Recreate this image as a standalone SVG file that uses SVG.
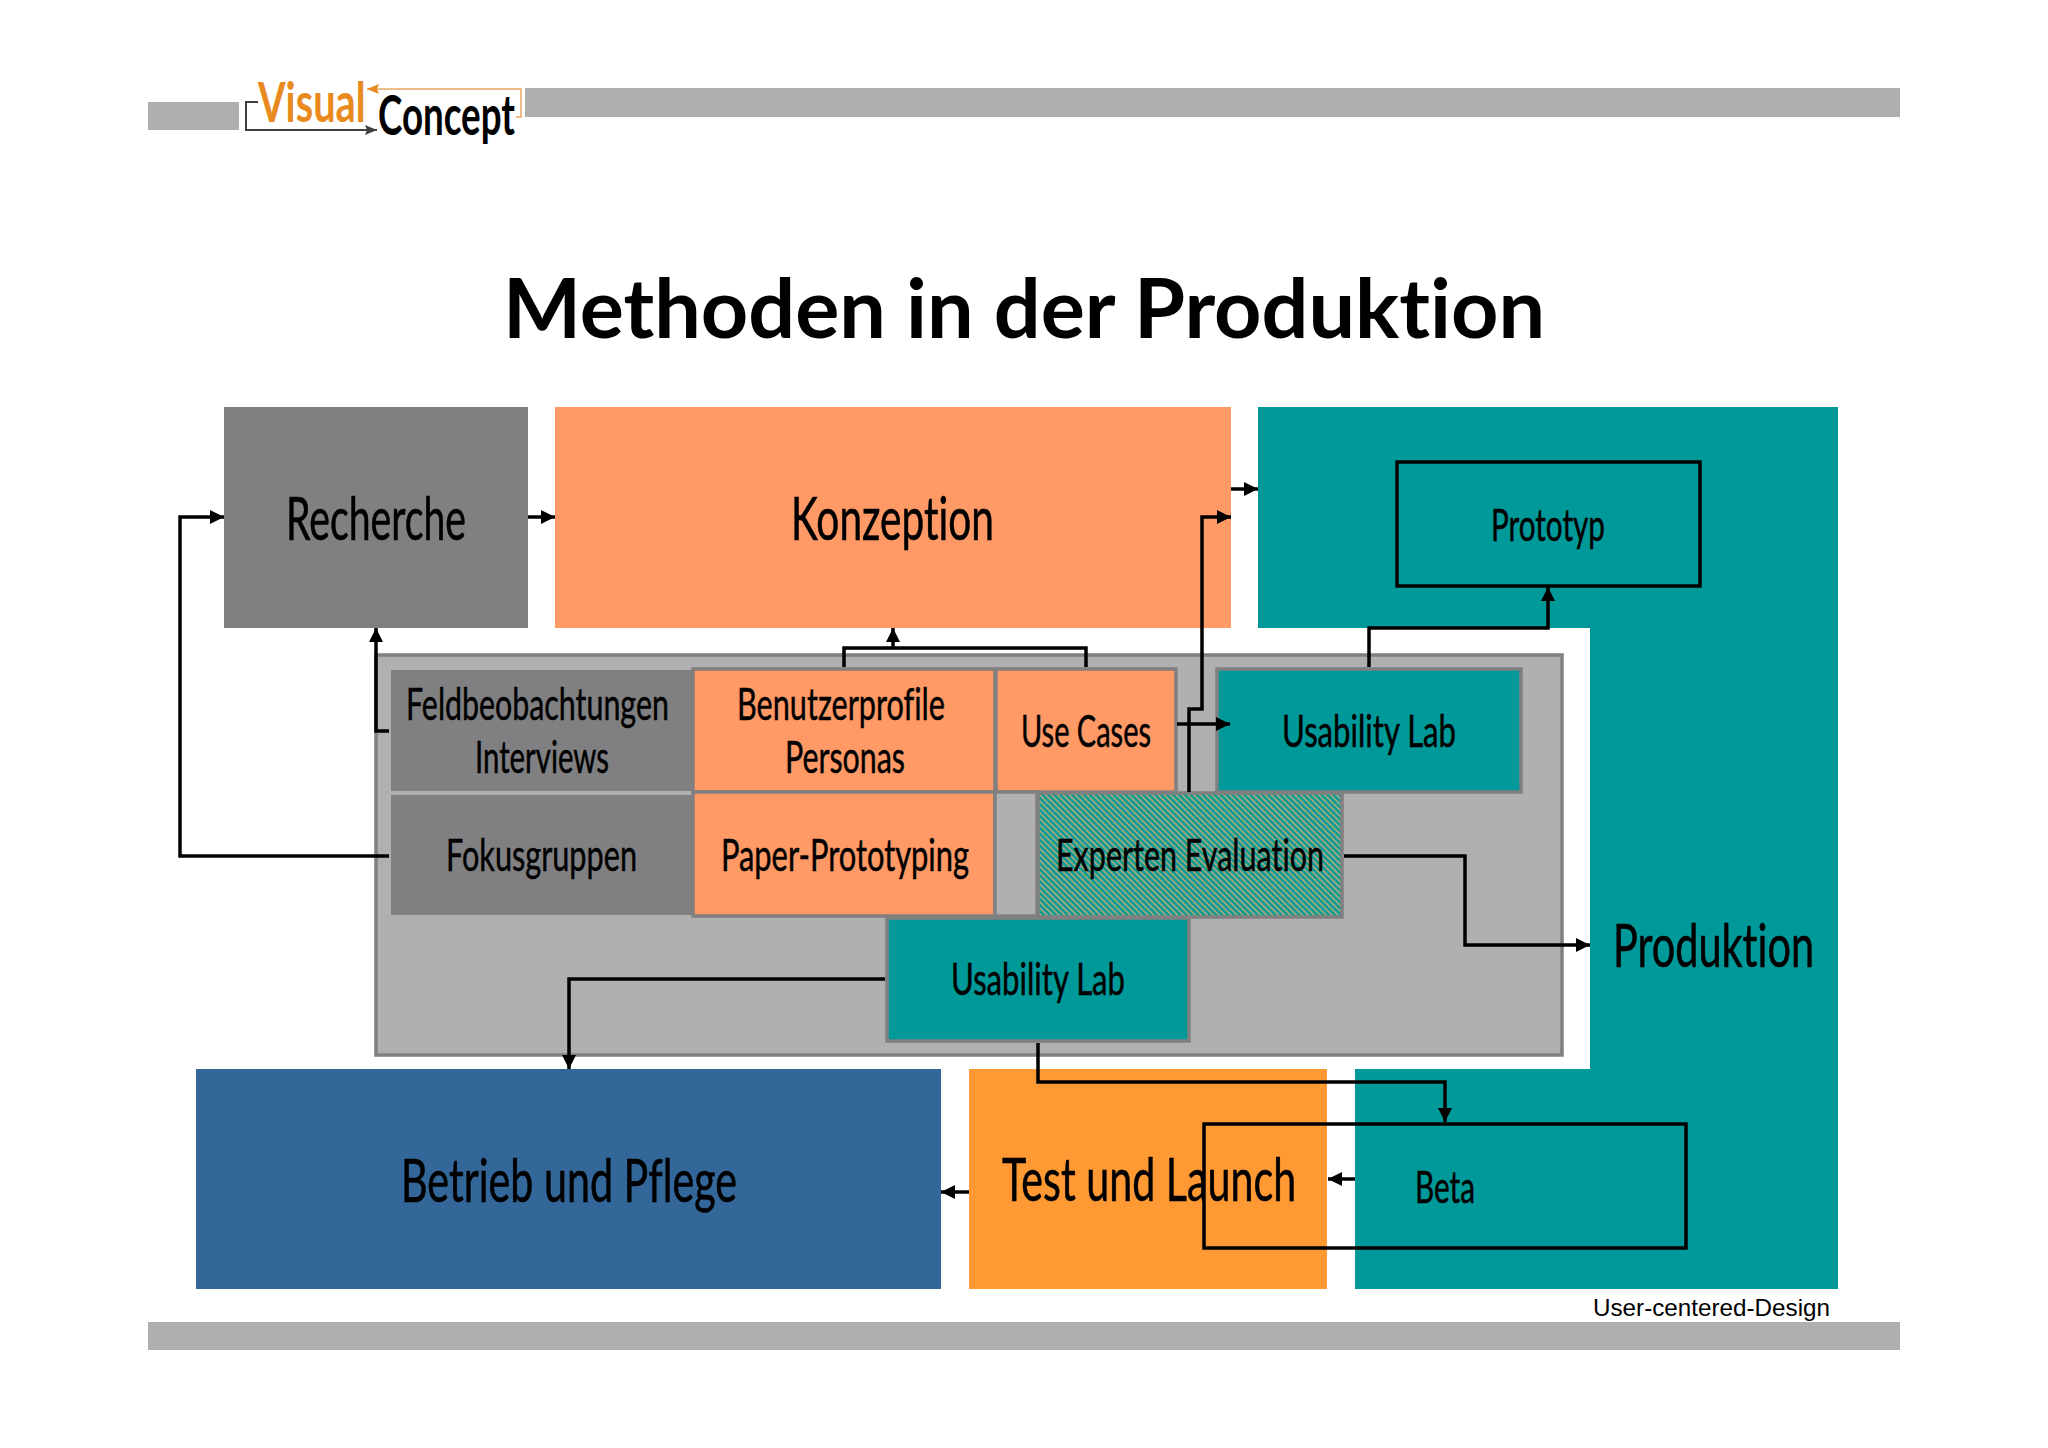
<svg xmlns="http://www.w3.org/2000/svg" width="2048" height="1448" viewBox="0 0 2048 1448">
<style>
text{font-family:"Lato","Liberation Sans",sans-serif;fill:#000;font-variant-ligatures:none}
.s{font-size:44px;stroke:#000;stroke-width:.5}
.l{font-size:60px;stroke:#000;stroke-width:.6}
.bar{fill:#b0afb0}
.grey{fill:#808083}
.or{fill:#ff9966}
.teal{fill:#009999}
.bd{stroke:#808080;stroke-width:3.5}
.c{fill:none;stroke:#000;stroke-width:3.5}
.box{fill:none;stroke:#000;stroke-width:3.5}
</style>
<defs>
<marker id="a" markerUnits="userSpaceOnUse" markerWidth="16" markerHeight="14" refX="14" refY="7" orient="auto"><path d="M0 0L14 7L0 14Z" fill="#000"/></marker>
<marker id="lg" markerUnits="userSpaceOnUse" markerWidth="13" markerHeight="10" refX="12" refY="5" orient="auto"><path d="M0 0L12 5L0 10L2 5Z" fill="#3f4145"/></marker>
<marker id="lo" markerUnits="userSpaceOnUse" markerWidth="13" markerHeight="10" refX="12" refY="5" orient="auto"><path d="M0 0L12 5L0 10L2 5Z" fill="#e88a1e"/></marker>
<pattern id="h" width="4.2" height="4.2" patternUnits="userSpaceOnUse" patternTransform="rotate(-45)"><rect width="4.2" height="4.2" fill="#0f9a94"/><rect width="1.6" height="4.2" fill="#a6aa7e"/></pattern>
</defs>
<rect width="2048" height="1448" fill="#fff"/>
<g id="header">
<rect class="bar" x="148" y="102" width="91" height="28"/>
<rect class="bar" x="525" y="88" width="1375" height="29"/>
<rect class="bar" x="148" y="1322" width="1752" height="28"/>
<path d="M258 102H246V130H377" fill="none" stroke="#3f4145" stroke-width="2" marker-end="url(#lg)"/>
<path d="M516 117H521V89H367" fill="none" stroke="#e9a860" stroke-width="1.5" marker-end="url(#lo)"/>
<text transform="translate(258 122) scale(.71 1)" font-size="56" font-weight="700" style="fill:#e88a1e">Visual</text>
<text x="378" y="135" font-size="56" font-weight="700" textLength="137" lengthAdjust="spacingAndGlyphs">Concept</text>
</g>
<text id="title" x="503" y="338" font-size="83" font-weight="700" textLength="1042" lengthAdjust="spacingAndGlyphs">Methoden in der Produktion</text>
<g id="recherche"><rect class="grey" x="224" y="407" width="304" height="221"/><text class="l" x="286" y="540" textLength="180" lengthAdjust="spacingAndGlyphs">Recherche</text></g>
<g id="konzeption"><rect class="or" x="555" y="407" width="676" height="221"/><text class="l" x="791" y="540" textLength="203" lengthAdjust="spacingAndGlyphs">Konzeption</text></g>
<g id="produktion"><path class="teal" d="M1258 407H1838V1289H1355V1069H1590V628H1258Z"/><text class="l" x="1613" y="967" textLength="201" lengthAdjust="spacingAndGlyphs">Produktion</text></g>
<g id="prototyp"><rect class="box" x="1397" y="462" width="303" height="124"/><text class="s" x="1491" y="541" textLength="114" lengthAdjust="spacingAndGlyphs">Prototyp</text></g>
<g id="methoden"><rect x="376" y="655" width="1186" height="400" fill="#b0afb1" class="bd"/></g>
<g id="feld"><rect class="grey" x="391" y="670" width="302" height="121"/><text class="s" transform="translate(406 720) scale(.69 1)">Feldbeobachtungen</text><text class="s" x="475" y="773" textLength="134" lengthAdjust="spacingAndGlyphs">Interviews</text></g>
<g id="fokus"><rect class="grey" x="391" y="795" width="302" height="120"/><text class="s" x="446" y="871" textLength="191" lengthAdjust="spacingAndGlyphs">Fokusgruppen</text></g>
<g id="benutzer"><rect class="or bd" x="693" y="669" width="302" height="123"/><text class="s" x="737" y="720" textLength="208" lengthAdjust="spacingAndGlyphs">Benutzerprofile</text><text class="s" x="785" y="773" textLength="120" lengthAdjust="spacingAndGlyphs">Personas</text></g>
<g id="paper"><rect class="or bd" x="693" y="792" width="302" height="124"/><text class="s" x="721" y="871" textLength="248" lengthAdjust="spacingAndGlyphs">Paper-Prototyping</text></g>
<g id="usecases"><rect class="or bd" x="996" y="669" width="180" height="123"/><text class="s" x="1021" y="747" textLength="130" lengthAdjust="spacingAndGlyphs">Use Cases</text></g>
<g id="ulab1"><rect class="teal bd" x="1217" y="669" width="304" height="123"/><text class="s" x="1282" y="747" textLength="174" lengthAdjust="spacingAndGlyphs">Usability Lab</text></g>
<g id="gap"><rect x="995" y="792" width="42" height="124" fill="#b0afb1" class="bd"/></g>
<g id="experten"><rect x="1038" y="793" width="304" height="124" fill="url(#h)" class="bd"/><text class="s" x="1056" y="871" textLength="268" lengthAdjust="spacingAndGlyphs">Experten Evaluation</text></g>
<g id="ulab2"><rect class="teal bd" x="887" y="918" width="302" height="123"/><text class="s" x="951" y="995" textLength="174" lengthAdjust="spacingAndGlyphs">Usability Lab</text></g>
<g id="betrieb"><rect x="196" y="1069" width="745" height="220" fill="#336699"/><text class="l" x="401" y="1202" textLength="336" lengthAdjust="spacingAndGlyphs">Betrieb und Pflege</text></g>
<g id="test"><rect x="969" y="1069" width="358" height="220" fill="#ff9933"/><text class="l" transform="translate(1002 1201) scale(.687 1)">Test und Launch</text></g>
<g id="beta"><rect class="box" x="1204" y="1124" width="482" height="124"/><text class="s" x="1415" y="1203" textLength="60" lengthAdjust="spacingAndGlyphs">Beta</text></g>
<text id="footer" x="1593" y="1316" font-size="24.5" style="font-family:'Liberation Sans',sans-serif" textLength="237" lengthAdjust="spacingAndGlyphs">User-centered-Design</text>
<g id="connectors">
<path class="c" d="M528 517H555" marker-end="url(#a)"/>
<path class="c" d="M1231 489H1258" marker-end="url(#a)"/>
<path class="c" d="M389 856H180V517H224" marker-end="url(#a)"/>
<path class="c" d="M389 731H376V628" marker-end="url(#a)"/>
<path class="c" d="M844 667V648H1086V667"/>
<path class="c" d="M893 648V628" marker-end="url(#a)"/>
<path class="c" d="M1189 792V709H1202V517H1231" marker-end="url(#a)"/>
<path class="c" d="M1177 724H1230" marker-end="url(#a)"/>
<path class="c" d="M1369 667V628H1548V587" marker-end="url(#a)"/>
<path class="c" d="M1344 856H1465V945H1590" marker-end="url(#a)"/>
<path class="c" d="M885 979H569V1069" marker-end="url(#a)"/>
<path class="c" d="M1038 1043V1082H1445V1122" marker-end="url(#a)"/>
<path class="c" d="M969 1192H941" marker-end="url(#a)"/>
<path class="c" d="M1355 1179H1328" marker-end="url(#a)"/>
</g>
</svg>
